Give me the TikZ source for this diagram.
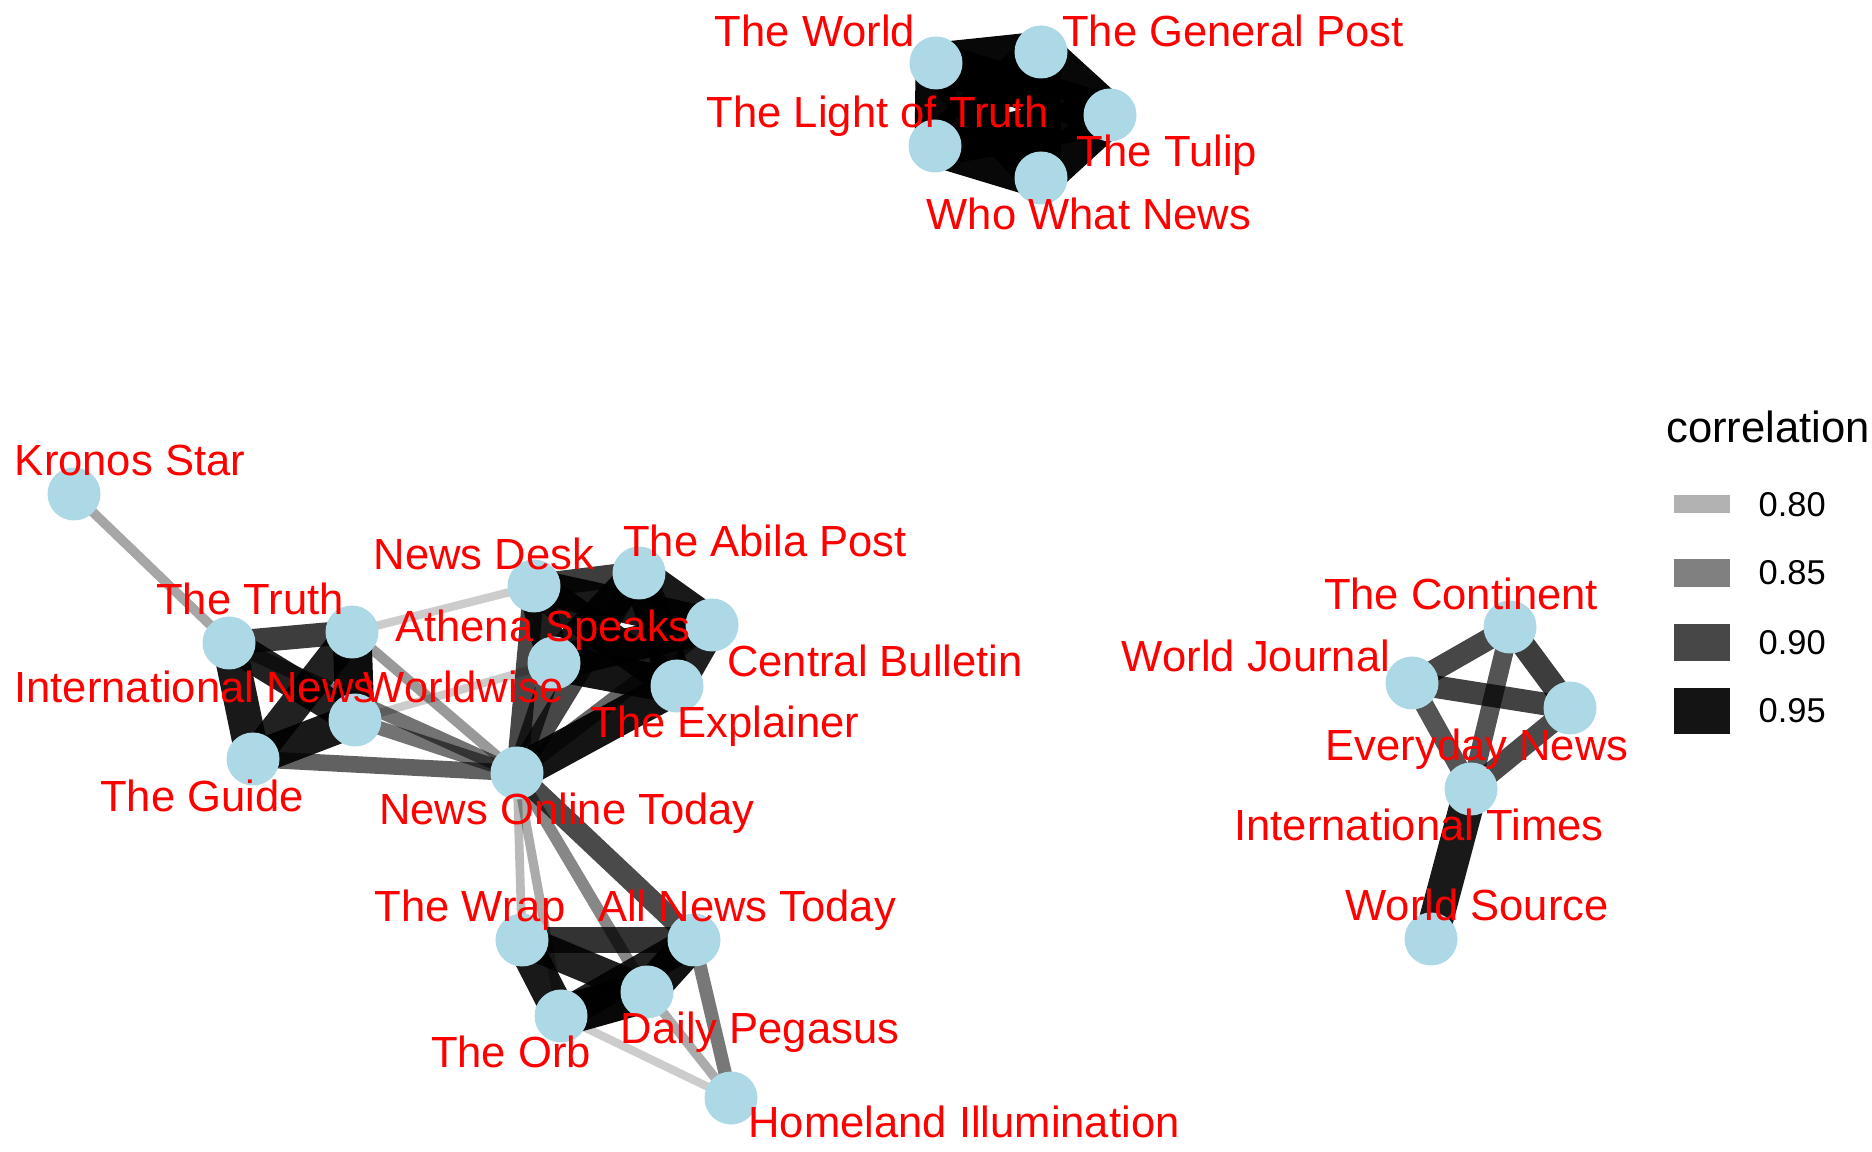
\documentclass[tikz,border=0pt]{standalone}
\usepackage{fontspec}
\setmainfont{Liberation Sans}
\usetikzlibrary{positioning}
\definecolor{nodeblue}{RGB}{173,216,230}
\pgfdeclarelayer{edges}
\pgfsetlayers{edges,main}

\begin{document}
\begin{tikzpicture}[x=0.1mm,y=-0.1mm,
  pub/.style={circle,fill=nodeblue,inner sep=0pt,minimum size=5.3mm},
  lbl/.style={text=red,font=\fontsize{12.4}{14}\selectfont,inner sep=0pt,anchor=base},
  cor/.style={draw=black,draw opacity=#1,line width={(8+36*(#1)^3)*0.1mm}}]
\useasboundingbox (0,0) rectangle (1872,1152);
% top group
\node[pub] (tw)  at (936,63) {};
\node[pub] (tgp) at (1041,52) {};
\node[pub] (tul) at (1110,115) {};
\node[pub] (wwn) at (1041,178) {};
\node[pub] (tlt) at (935,146) {};
% left and middle group
\node[pub] (ks)  at (74,494) {};
\node[pub] (tt)  at (229,643) {};
\node[pub] (in)  at (352,632) {};
\node[pub] (ww)  at (355,720) {};
\node[pub] (tg)  at (253,759) {};
\node[pub] (nd)  at (534,586) {};
\node[pub] (tap) at (639,573) {};
\node[pub] (cb)  at (712,625) {};
\node[pub] (as)  at (554,663) {};
\node[pub] (te)  at (677,686) {};
\node[pub] (not) at (517,773) {};
% bottom group
\node[pub] (wrap) at (522,940) {};
\node[pub] (ant)  at (694,940) {};
\node[pub] (dp)   at (647,992) {};
\node[pub] (orb)  at (561,1016) {};
\node[pub] (hi)   at (731,1098) {};
% right group
\node[pub] (tc) at (1510,627) {};
\node[pub] (wj) at (1412,683) {};
\node[pub] (en) at (1570,708) {};
\node[pub] (it) at (1471,789) {};
\node[pub] (ws) at (1431,939) {};

\begin{pgfonlayer}{edges}
  \foreach \a/\b/\o in {tw/tgp/0.97, tw/tul/0.97, tw/wwn/0.97, tw/tlt/0.97, tgp/tul/0.97,
      tgp/wwn/0.97, tgp/tlt/0.97, tul/wwn/0.97, tul/tlt/0.97, wwn/tlt/0.97,
      ks/tt/0.35, tt/in/0.76, tt/tg/0.9, tt/ww/0.87, in/tg/0.87, in/ww/0.95, ww/tg/0.9,
      in/nd/0.2, ww/as/0.2, in/not/0.4, tt/not/0.55, ww/not/0.55, tg/not/0.62,
      nd/tap/0.76, nd/as/0.88, nd/cb/0.9, nd/te/0.9, tap/cb/0.9, tap/as/0.9, tap/te/0.9,
      cb/as/0.9, cb/te/0.88, as/te/0.92,
      not/nd/0.72, not/as/0.7, not/tap/0.72, not/cb/0.6, not/te/0.92,
      not/wrap/0.27, not/orb/0.33, not/dp/0.47, not/ant/0.71,
      wrap/ant/0.8, wrap/orb/0.9, wrap/dp/0.87, orb/ant/0.87, orb/dp/0.97, dp/ant/0.93,
      orb/hi/0.2, dp/hi/0.33, ant/hi/0.53,
      wj/tc/0.72, tc/en/0.76, wj/en/0.74, tc/it/0.67, wj/it/0.67, en/it/0.71, it/ws/0.9}
    \draw[cor=\o] (\a.center) -- (\b.center);
\end{pgfonlayer}

% names
\foreach \n/\x/\y/\t in {tw/815/47/The World, tgp/1233/47/The General Post,
    tlt/878/128/The Light of Truth, tul/1167/167/The Tulip, wwn/1089/230/Who What News,
    ks/130/476/Kronos Star, nd/484/570/News Desk, tap/765/557/The Abila Post,
    tt/250/615/The Truth, as/543/642/Athena Speaks, cb/875/677/Central Bulletin,
    in/195/703/International News, ww/464/703/Worldwise, te/725/738/The Explainer,
    tg/202/812/The Guide, not/567/825/News Online Today, wrap/470/922/The Wrap,
    ant/747/922/All News Today, dp/760/1043/Daily Pegasus, orb/511/1068/The Orb,
    hi/964/1137/Homeland Illumination, tc/1461/610/The Continent,
    wj/1256/672/World Journal, en/1477/761/Everyday News,
    it/1419/841/International Times, ws/1477/921/World Source}
  \node[lbl] (\n-t) at (\x,\y) {\t};

% legend
\node[anchor=base,inner sep=0pt,font=\fontsize{12.4}{14}\selectfont] (leg) at (1768,443) {correlation};
\foreach \n/\v/\p/\h/\y/\b in {80/0.80/30/18/504/517, 85/0.85/50/28/573/585,
    90/0.90/72/37/642.5/655, 95/0.95/92/46/711/723} {
  \fill[black!\p] (1674,\y-\h/2) rectangle (1730,\y+\h/2);
  \node[anchor=base west,inner sep=0pt,font=\fontsize{9.8}{11}\selectfont] (k\n) at (1758,\b) {\v};
}
\end{tikzpicture}
\end{document}
